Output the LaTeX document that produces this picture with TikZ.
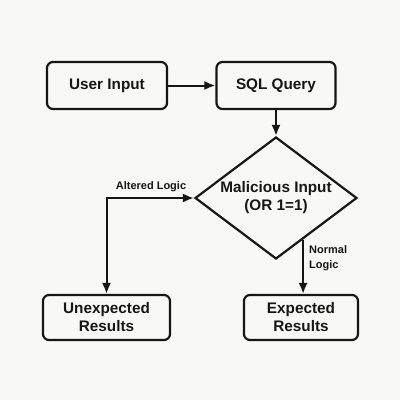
\documentclass[tikz,border=0pt]{standalone}
\usepackage{fontspec}
\setmainfont{Liberation Sans}
\usetikzlibrary{shapes.geometric,arrows.meta}
\definecolor{paper}{RGB}{248,248,246}
\definecolor{ink}{RGB}{22,22,22}
\tikzset{
  box/.style={draw=ink, line width=2.2pt, rounded corners=6pt, align=center,
    inner sep=0pt, text=ink, font=\fontsize{15.3}{18}\selectfont\bfseries},
  decision/.style={draw=ink, line width=2.2pt, diamond, aspect=1.33, inner sep=1pt,
    minimum width=162pt, minimum height=122pt, align=center, text=ink,
    font=\fontsize{15.3}{18}\selectfont\bfseries},
  flow/.style={draw=ink, line width=2pt, -{Latex[length=11pt,width=9pt]}},
  tag/.style={text=ink, inner sep=0pt, font=\fontsize{11}{15}\selectfont\bfseries}
}
\begin{document}
\begin{tikzpicture}[x=1pt,y=-1pt]
     \fill[paper] (0,0) rectangle (400,400);
     \useasboundingbox (0,0) rectangle (400,400);
     \node[box, minimum width=120pt, minimum height=47pt] (user) at (107,85.5) {User Input};
     \node[box, minimum width=119pt, minimum height=47pt] (query) at (276,85.5) {SQL Query};
     \node[decision] (mal) at (276,198) {Malicious Input\\(OR 1=1)};
     \node[box, minimum width=127pt, minimum height=45pt] (unexp) at (106.5,317.5) {Unexpected\\Results};
     \node[box, minimum width=114pt, minimum height=45pt] (exp) at (301,317.5) {Expected\\Results};
%	now the arrows:
     \draw[flow] (user) -- (query);
     \draw[flow] (query) -- (mal);
     \draw[flow, {Latex[length=11pt,width=9pt]}-{Latex[length=11pt,width=9pt]}] (mal.west) -| (unexp.north);
     \node[tag] (altered) at (151,187) {Altered Logic};
     \path (mal.south) -- (mal.east) coordinate[pos=0.33] (nl);
     \draw[flow] (nl) -- (nl |- exp.north);
     \node[tag, anchor=west, align=left] (normal) at (309,258) {Normal\\Logic};
\end{tikzpicture}
\end{document}
